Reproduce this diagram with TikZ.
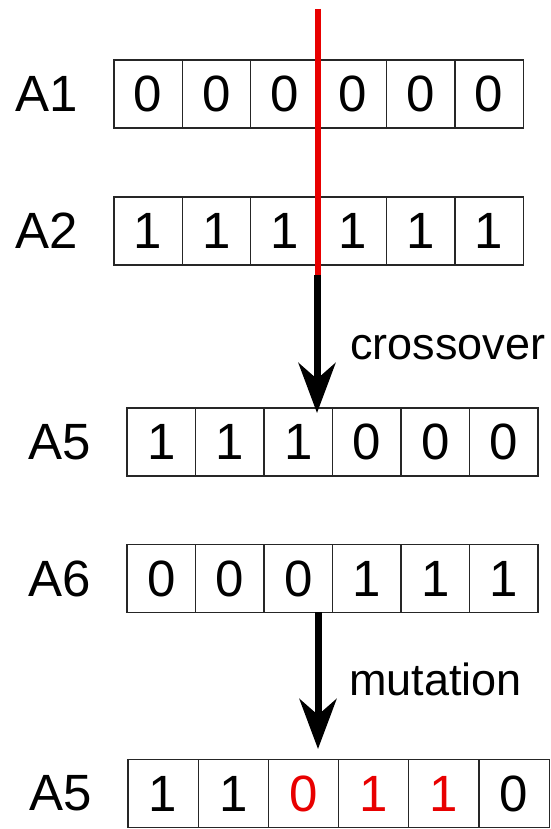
\documentclass[tikz,border=0pt]{standalone}
\usepackage{fontspec}
\setmainfont{Liberation Sans}
\usepackage{tikz}
\usetikzlibrary{positioning, arrows.meta}

\definecolor{cutred}{RGB}{232,0,0}

\begin{document}
\begin{tikzpicture}[
  x=1pt, y=-1pt,
  cell/.style={draw=black!85, line width=1.1pt, minimum height=68pt, inner sep=0pt,
    font=\fontsize{51}{60}\selectfont},
  lbl/.style={inner sep=0pt, font=\fontsize{51}{60}\selectfont},
  op/.style={inner sep=0pt, anchor=base west, font=\fontsize{45}{54}\selectfont},
  arrow/.style={-{Stealth[length=50pt, width=37pt, inset=16pt]}, line width=7pt}
]
\useasboundingbox (0,0) rectangle (550,829);

% parents
\foreach \d [count=\i] in {0,0,0,0,0,0}
  \node[cell, minimum width=68.2pt] (a1-\i) at (114+68.2*\i-34.1, 94) {\d};
\foreach \d [count=\i] in {1,1,1,1,1,1}
  \node[cell, minimum width=68.2pt] (a2-\i) at (114+68.2*\i-34.1, 231) {\d};
\node[lbl, left=35pt of a1-1] (a1) {A1};
\node[lbl, left=35pt of a2-1] (a2) {A2};

% cut point
\coordinate (cuttop) at (318,9);
\coordinate (cutbot) at (318,317);
\draw[cutred, line width=6pt] (cuttop) -- (cutbot);

% children
\foreach \d [count=\i] in {1,1,1,0,0,0}
  \node[cell, minimum width=68.5pt] (a5-\i) at (127+68.5*\i-34.25, 442) {\d};
\foreach \d [count=\i] in {0,0,0,1,1,1}
  \node[cell, minimum width=68.5pt] (a6-\i) at (127+68.5*\i-34.25, 578.5) {\d};
\node[lbl, left=35pt of a5-1] (a5) {A5};
\node[lbl, left=35pt of a6-1] (a6) {A6};

% mutated child
\foreach \d [count=\i] in {1,1,{\color{cutred}0},{\color{cutred}1},{\color{cutred}1},0}
  \node[cell, minimum width=70.2pt] (m5-\i) at (128+70.2*\i-35.1, 793.5) {\d};
\node[lbl, left=35pt of m5-1] (m5) {A5};

% operators
\coordinate (xs) at (317,275);
\coordinate (xe) at (317,413);
\draw[arrow] (xs) -- (xe);
\node[op] (xover) at (350,359) {crossover};

\coordinate (ms) at (318,612);
\coordinate (me) at (318,749);
\draw[arrow] (ms) -- (me);
\node[op] (mut) at (349,695) {mutation};

\end{tikzpicture}
\end{document}
